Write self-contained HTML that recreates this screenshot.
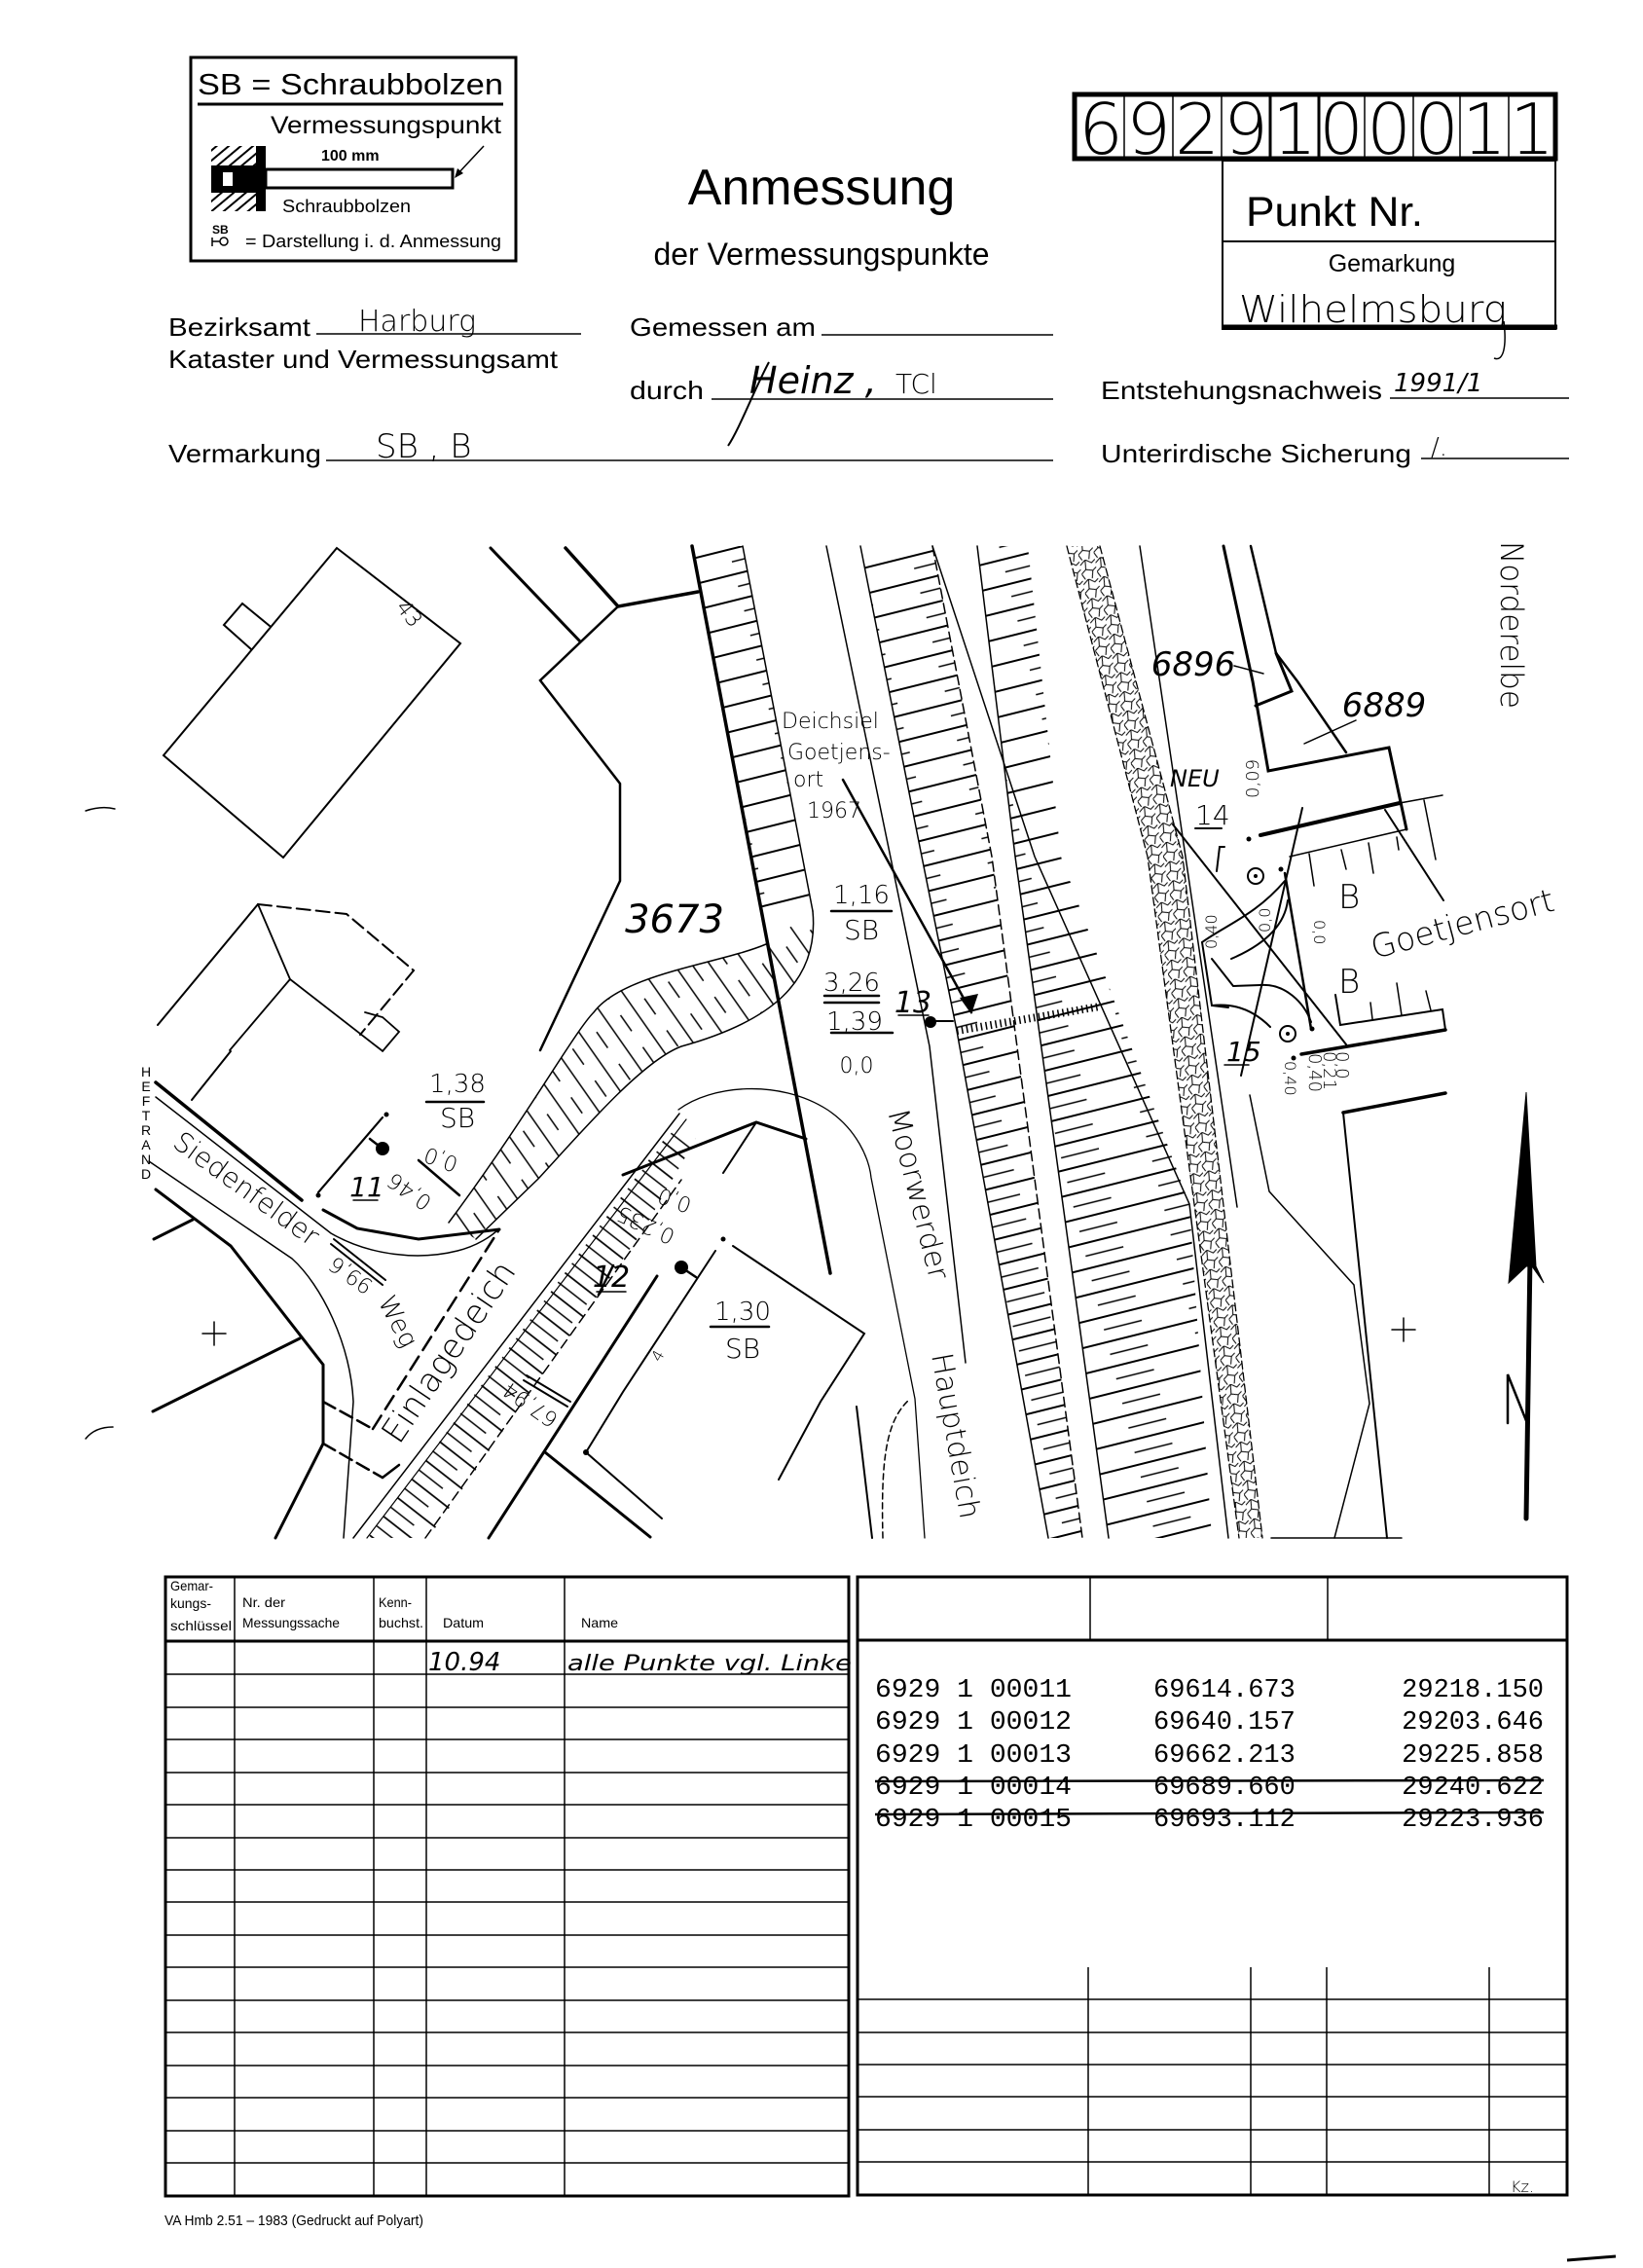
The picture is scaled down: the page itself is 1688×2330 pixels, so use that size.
<!DOCTYPE html>
<html><head><meta charset="utf-8"><style>
html,body{margin:0;padding:0;background:#fff}
svg{display:block}
.p{font-family:"Liberation Sans",sans-serif}
.n{font-family:"Liberation Sans",sans-serif}
.h{font-family:"DejaVu Sans","Liberation Sans",sans-serif}
.m{font-family:"Liberation Mono",monospace}
</style></head><body>
<svg width="1688" height="2330" viewBox="0 0 1688 2330" xmlns="http://www.w3.org/2000/svg">
<defs>
<pattern id="tk" width="90" height="26" patternUnits="userSpaceOnUse" patternTransform="rotate(-14)">
<line x1="0" y1="1" x2="90" y2="1" stroke="#000" stroke-width="2"/>
<line x1="50" y1="14" x2="90" y2="14" stroke="#000" stroke-width="1.6"/>
</pattern>
<pattern id="tk2" width="90" height="24" patternUnits="userSpaceOnUse" patternTransform="rotate(38)">
<line x1="0" y1="1" x2="90" y2="1" stroke="#000" stroke-width="1.8"/>
<line x1="0" y1="13" x2="40" y2="13" stroke="#000" stroke-width="1.5"/>
</pattern>
<pattern id="tk3" width="40" height="30" patternUnits="userSpaceOnUse" patternTransform="rotate(55)">
<line x1="0" y1="1" x2="40" y2="1" stroke="#000" stroke-width="1.6"/>
<line x1="20" y1="16" x2="40" y2="16" stroke="#000" stroke-width="1.4"/>
</pattern>
<pattern id="cb" width="16" height="20" patternUnits="userSpaceOnUse" patternTransform="rotate(-10)">
<path d="M0,5 L6,0 L12,4 L16,1 M6,0 L5,10 L0,14 M5,10 L12,12 L16,9 M12,12 L10,20 M0,14 L3,20" fill="none" stroke="#000" stroke-width="1"/>
</pattern>
<pattern id="hs" width="8" height="8" patternUnits="userSpaceOnUse" patternTransform="rotate(-40)">
<line x1="0" y1="2" x2="8" y2="2" stroke="#000" stroke-width="2"/>
</pattern>
</defs>

<!-- LEGEND -->
<rect x="196" y="59" width="334" height="209" fill="none" stroke="#000" stroke-width="3"/>
<text x="203" y="97" class="p" font-size="31" textLength="314" lengthAdjust="spacingAndGlyphs">SB = Schraubbolzen</text>
<line x1="203" y1="107" x2="517" y2="107" stroke="#000" stroke-width="3"/>
<text x="278" y="137" class="p" font-size="25" textLength="237" lengthAdjust="spacingAndGlyphs">Vermessungspunkt</text>
<rect x="217" y="150" width="46" height="67" fill="url(#hs)"/>
<rect x="263" y="150" width="10" height="67" fill="#000"/>
<rect x="217" y="170" width="56" height="28" fill="#000"/>
<rect x="229" y="177" width="10" height="14" fill="#fff"/>
<rect x="273" y="174" width="192" height="19" fill="#fff" stroke="#000" stroke-width="3"/>
<text x="330" y="165" class="p" font-size="16" font-weight="bold">100 mm</text>
<line x1="497" y1="150" x2="469" y2="180" stroke="#000" stroke-width="1.5"/>
<path d="M467,183 L470,173 L476,178Z" fill="#000"/>
<text x="290" y="218" class="p" font-size="18" textLength="132" lengthAdjust="spacingAndGlyphs">Schraubbolzen</text>
<text x="218" y="240" class="p" font-size="12" font-weight="bold">SB</text>
<path d="M218,244 V253 M218,248 H226" stroke="#000" stroke-width="1.5"/>
<circle cx="230" cy="248" r="4" fill="none" stroke="#000" stroke-width="1.5"/>
<text x="252" y="254" class="p" font-size="18" textLength="263" lengthAdjust="spacingAndGlyphs">= Darstellung i. d. Anmessung</text>

<!-- TITLE -->
<text x="844" y="210" class="p" font-size="52" text-anchor="middle">Anmessung</text>
<text x="844" y="272" class="p" font-size="32" text-anchor="middle">der Vermessungspunkte</text>

<!-- NUMBER BOX -->
<rect x="1104" y="97" width="494" height="66" fill="none" stroke="#000" stroke-width="5"/>
<g stroke="#000" stroke-width="1.5">
<line x1="1155" y1="97" x2="1155" y2="163"/><line x1="1205" y1="97" x2="1205" y2="163"/>
<line x1="1255" y1="97" x2="1255" y2="163"/><line x1="1305" y1="97" x2="1305" y2="163" stroke-width="3"/>
<line x1="1355" y1="97" x2="1355" y2="163" stroke-width="3"/><line x1="1402" y1="97" x2="1402" y2="163"/>
<line x1="1452" y1="97" x2="1452" y2="163"/><line x1="1500" y1="97" x2="1500" y2="163"/>
<line x1="1550" y1="97" x2="1550" y2="163"/>
</g>
<g class="h" font-size="72" font-weight="200" text-anchor="middle">
<text x="1131" y="158">6</text><text x="1180" y="158">9</text><text x="1230" y="158">2</text><text x="1280" y="158">9</text>
<text x="1330" y="158">1</text><text x="1378" y="158">0</text><text x="1427" y="158">0</text><text x="1476" y="158">0</text>
<text x="1525" y="158">1</text><text x="1574" y="158">1</text>
</g>
<rect x="1256" y="165" width="342" height="173" fill="none" stroke="#000" stroke-width="2"/>
<line x1="1256" y1="336" x2="1600" y2="336" stroke="#000" stroke-width="5"/>
<line x1="1256" y1="248" x2="1598" y2="248" stroke="#000" stroke-width="2"/>
<text x="1280" y="232" class="p" font-size="43" textLength="182" lengthAdjust="spacingAndGlyphs">Punkt Nr.</text>
<text x="1430" y="279" class="p" font-size="25" text-anchor="middle">Gemarkung</text>
<text x="1273" y="331" class="h" font-size="38" font-weight="200" textLength="275" lengthAdjust="spacingAndGlyphs">Wilhelmsburg</text>
<path d="M1545,330 C1548,355 1545,372 1535,368" fill="none" stroke="#000" stroke-width="1.5"/>

<!-- FIELDS -->
<g class="n" font-size="26">
<text x="173" y="345" textLength="146" lengthAdjust="spacingAndGlyphs">Bezirksamt</text>
<text x="173" y="378" textLength="400" lengthAdjust="spacingAndGlyphs">Kataster und Vermessungsamt</text>
<text x="647" y="345" textLength="191" lengthAdjust="spacingAndGlyphs">Gemessen am</text>
<text x="647" y="410" textLength="76" lengthAdjust="spacingAndGlyphs">durch</text>
<text x="173" y="475" textLength="157" lengthAdjust="spacingAndGlyphs">Vermarkung</text>
<text x="1131" y="410" textLength="289" lengthAdjust="spacingAndGlyphs">Entstehungsnachweis</text>
<text x="1131" y="475" textLength="319" lengthAdjust="spacingAndGlyphs">Unterirdische Sicherung</text>
</g>
<g stroke="#000" stroke-width="1.5">
<line x1="325" y1="343" x2="597" y2="343"/><line x1="844" y1="344" x2="1082" y2="344"/>
<line x1="731" y1="410" x2="1082" y2="410"/><line x1="1428" y1="409" x2="1612" y2="409"/>
<line x1="335" y1="473" x2="1082" y2="473"/><line x1="1460" y1="471" x2="1612" y2="471"/>
</g>
<g class="h" font-weight="200">
<text x="368" y="340" font-size="30">Harburg</text>
<text x="386" y="470" font-size="34">SB , B</text>
<text x="770" y="404" font-size="38" font-style="italic">Heinz ,</text>
<text x="920" y="404" font-size="28">TCl</text>
<text x="1432" y="402" font-size="26" font-style="italic">1991/1</text>
<text x="1470" y="468" font-size="26">/.</text>
</g>
<path d="M790,372 C775,400 760,440 748,458" fill="none" stroke="#000" stroke-width="2"/>

<!-- MAP -->
<g fill="none" stroke="#000" stroke-linecap="round">
<polygon points="346,563 473,661 291,881 168,776" stroke-width="2"/>
<polyline points="258,667 230,642 249,620 277,643" stroke-width="2"/>
<polyline points="504,563 596,659" stroke-width="3"/>
<polyline points="581,563 635,623 717,608" stroke-width="3.5"/>
<polyline points="635,623 555,699 637,805 637,905 555,1079" stroke-width="2.5"/>
<polyline points="265,929 356,939 425,997 370,1063" stroke-width="2" stroke-dasharray="14,6"/>
<polyline points="265,929 162,1053" stroke-width="2"/>
<polyline points="265,929 298,1006 392,1079" stroke-width="1.8"/>
<polyline points="298,1006 236,1079" stroke-width="1.8"/>
<polyline points="393,1080 410,1060 393,1045 375,1040" stroke-width="1.8"/>
<polyline points="237,1080 197,1130" stroke-width="2"/>
<polyline points="393,1148 327,1225" stroke-width="2"/>

<polygon points="711,561 763,561 835,936 782,936" fill="url(#tk)" stroke="none"/>
<polyline points="711,561 853,1308" stroke-width="3.5"/>
<polyline points="763,561 835,936" stroke-width="1.5"/>
<path d="M835,936 C842,1010 790,1050 700,1075 C660,1090 600,1160 553,1211 L489,1273 L461,1256 C540,1150 590,1060 610,1040 C640,1000 740,990 787,970 Z" fill="url(#tk3)" stroke="none"/>
<path d="M835,936 C842,1010 790,1050 700,1075 C660,1090 600,1160 553,1211 L489,1273" stroke-width="1.5"/>
<path d="M787,970 C740,990 640,1000 610,1040 C590,1060 540,1150 461,1256" stroke-width="1.5"/>
<polygon points="378,1580 690,1160 715,1170 660,1265 440,1580" fill="url(#tk2)" stroke="none"/>
<polyline points="363,1580 698,1144" stroke-width="1.5"/>
<polyline points="377,1580 705,1150" stroke-width="1.2"/>
<polyline points="437,1580 700,1212" stroke-width="1.5" stroke-dasharray="10,6"/>
<polyline points="502,1580 675,1311" stroke-width="3"/>
<polyline points="160,1112 310,1233" stroke-width="3.5"/>
<path d="M160,1127 L340,1267 C380,1290 430,1295 470,1285 C490,1280 505,1270 512,1263" stroke-width="1.5"/>
<path d="M153,1193 L300,1293 C330,1320 360,1380 363,1440 L353,1580" stroke-width="1.5"/>
<polyline points="160,1222 237,1280 332,1402 332,1483 283,1580" stroke-width="3"/>
<polyline points="158,1273 198,1253" stroke-width="3"/>
<polyline points="157,1450 308,1375" stroke-width="3"/>
<polyline points="332,1440 383,1468" stroke-width="2.5" stroke-dasharray="14,6"/>
<polyline points="332,1483 393,1518" stroke-width="2.5" stroke-dasharray="14,6"/>
<polyline points="383,1468 513,1263" stroke-width="2.5" stroke-dasharray="16,8"/>
<polyline points="393,1518 410,1505" stroke-width="2.5"/>
<polyline points="332,1243 367,1262 430,1273 513,1263" stroke-width="3"/>
<polyline points="340,1278 393,1320" stroke-width="2"/><polyline points="343,1273 396,1315" stroke-width="2"/>
<polyline points="538,1418 583,1445" stroke-width="2"/><polyline points="541,1413 586,1440" stroke-width="2"/>
<polyline points="430,1192 472,1228" stroke-width="2.5"/>
<line x1="327" y1="1225" x2="393" y2="1148" stroke-width="2"/>
<polyline points="640,1207 777,1153 828,1170" stroke-width="3"/>
<polyline points="777,1153 743,1205" stroke-width="2"/>
<path d="M697,1140 C730,1115 800,1108 850,1140 C880,1160 893,1190 895,1210 L940,1437 L950,1580" stroke-width="1.3"/>
<polyline points="753,1280 888,1370 843,1440 800,1520" stroke-width="2"/>
<polyline points="735,1285 640,1430 602,1492 680,1560" stroke-width="2"/>
<polyline points="560,1492 668,1579" stroke-width="3"/>
<polyline points="615,1330 630,1300" stroke-width="2.5"/>
<polyline points="849,561 955,1075 992,1400" stroke-width="1.5"/>
<polyline points="880,1445 896,1580" stroke-width="2"/>
<path d="M907,1580 C905,1500 910,1460 934,1438" stroke-width="1.5" stroke-dasharray="6,4"/>
<polygon points="884,561 958,561 1019,880 1112,1580 1077,1580 983,1059 947,880" fill="url(#tk)" stroke="none"/>
<polyline points="884,561 947,880 983,1059 1077,1580" stroke-width="1.5"/>
<polyline points="958,561 1019,880 1112,1580" stroke-width="1.5" stroke-dasharray="10,5"/>
<polygon points="1004,561 1056,561 1090,880 1222,1237 1245,1580 1139,1580 1043,880" fill="url(#tk)" stroke="none"/>
<polyline points="1004,561 1043,880 1139,1580" stroke-width="1.5"/>
<polyline points="958,561 1063,880 1222,1237 1262,1580" stroke-width="1.5"/>
<polygon points="1096,561 1130,561 1215,880 1297,1580 1273,1580 1179,880" fill="url(#cb)" stroke="none"/>
<polyline points="1096,561 1179,880 1273,1580" stroke-width="1.3" stroke-dasharray="8,4"/>
<polyline points="1130,561 1215,880 1297,1580" stroke-width="1.3" stroke-dasharray="8,4"/>
<polyline points="1171,561 1271,1240" stroke-width="1.5"/>
<line x1="983" y1="1059" x2="1130" y2="1034" stroke-width="8" stroke-dasharray="1.5,3.5" stroke-linecap="butt"/>
<polyline points="1257,561 1287,700 1303,792 1427,768 1445,852" stroke-width="3"/>
<polyline points="1285,561 1311,671 1333,700 1383,773" stroke-width="2.5"/>
<polyline points="1290,725 1327,710 1311,671" stroke-width="3"/>
<polyline points="1295,858 1438,825" stroke-width="4"/>
<polyline points="1438,825 1482,817" stroke-width="1.5"/>
<polyline points="1325,880 1445,852" stroke-width="1.5"/>
<polyline points="1423,832 1483,925" stroke-width="2"/>
<polyline points="1463,822 1475,883" stroke-width="1.5"/>
<line x1="1406" y1="866" x2="1411" y2="897" stroke-width="1.5"/><line x1="1345" y1="877" x2="1350" y2="910" stroke-width="1.5"/>
<line x1="1378" y1="873" x2="1383" y2="893" stroke-width="1.5"/>
<line x1="1435" y1="860" x2="1437" y2="873" stroke-width="1.5"/>
<polyline points="1372,1022 1377,1053 1482,1037 1485,1058" stroke-width="2"/>
<polyline points="1337,1083 1485,1058" stroke-width="3.5"/>
<line x1="1408" y1="1030" x2="1410" y2="1047" stroke-width="1.5"/><line x1="1435" y1="1010" x2="1440" y2="1043" stroke-width="1.5"/><line x1="1465" y1="1018" x2="1470" y2="1038" stroke-width="1.5"/>
<polyline points="1380,1143 1485,1123" stroke-width="3.5"/>
<polyline points="1205,847 1383,1073" stroke-width="2"/>
<polyline points="1338,830 1275,1105" stroke-width="2"/>
<polyline points="1320,897 1347,1057" stroke-width="2.5"/>
<path d="M1235,968 C1260,950 1290,940 1320,905" stroke-width="2"/>
<path d="M1265,985 C1300,970 1320,950 1323,925" stroke-width="2"/>
<polyline points="1235,968 1245,1033 1262,1035" stroke-width="2"/>
<polyline points="1245,985 1267,1013 1295,1012" stroke-width="2"/>
<path d="M1295,1012 C1320,1010 1340,1030 1347,1050" stroke-width="2"/>
<path d="M1245,1033 C1270,1030 1290,1040 1305,1055" stroke-width="2"/>
<polyline points="1250,895 1253,870 1258,870" stroke-width="2"/>
<circle cx="1290" cy="900" r="8" stroke-width="2"/>
<circle cx="1323" cy="1062" r="8" stroke-width="2"/>
<polyline points="1284,1125 1304,1224 1391,1320 1407,1442 1371,1580" stroke-width="1.5"/>
<polyline points="1380,1143 1425,1580" stroke-width="2"/>
<polyline points="1306,1580 1440,1580" stroke-width="1.5"/>
<line x1="866" y1="801" x2="998" y2="1040" stroke-width="2.5"/>
<line x1="1268" y1="684" x2="1298" y2="692" stroke-width="1.5"/>
<line x1="1393" y1="740" x2="1340" y2="764" stroke-width="1.5"/>
<path d="M208,1370 H232 M220,1358 V1382" stroke-width="1.5"/>
<path d="M1430,1366 H1454 M1442,1354 V1378" stroke-width="1.5"/>
<line x1="854" y1="936" x2="916" y2="936" stroke-width="2.5"/>
<line x1="847" y1="1023" x2="903" y2="1023" stroke-width="2.5"/>
<line x1="847" y1="1030" x2="903" y2="1030" stroke-width="2.5"/>
<line x1="854" y1="1061" x2="917" y2="1061" stroke-width="2.5"/>
<line x1="923" y1="1043" x2="954" y2="1043" stroke-width="1.5"/>
<line x1="438" y1="1132" x2="497" y2="1132" stroke-width="2.5"/>
<line x1="363" y1="1233" x2="388" y2="1233" stroke-width="1.5"/>
<line x1="613" y1="1327" x2="643" y2="1327" stroke-width="1.5"/>
<line x1="730" y1="1363" x2="790" y2="1363" stroke-width="2.5"/>
<line x1="1228" y1="851" x2="1255" y2="851" stroke-width="2"/>
<line x1="1258" y1="1094" x2="1283" y2="1094" stroke-width="1.5"/>
<line x1="956" y1="1049" x2="979" y2="1049" stroke-width="2"/>
<line x1="700" y1="1302" x2="715" y2="1312" stroke-width="2.5"/>
<line x1="393" y1="1180" x2="380" y2="1170" stroke-width="2.5"/>
<path d="M1568,1122 L1578,1301 L1586,1318 L1574,1301 L1568,1301 L1550,1318 Z" fill="#000" stroke="#000" stroke-width="1"/>
<line x1="1572" y1="1290" x2="1568" y2="1560" stroke-width="5"/>
<polyline points="1549,1462 1549,1412 1569,1462" stroke-width="2.5"/>
<path d="M88,833 C100,829 110,829 118,831" stroke-width="1.5"/>
<path d="M88,1478 C96,1468 108,1466 116,1466" stroke-width="1.5"/>
</g>
<g fill="#000">
<path d="M998,1042 L986,1025 L1005,1021 Z"/>
<circle cx="956" cy="1050" r="6"/><circle cx="393" cy="1180" r="7"/><circle cx="700" cy="1302" r="7"/>
<circle cx="397" cy="1145" r="2.5"/><circle cx="743" cy="1273" r="2.5"/><circle cx="602" cy="1492" r="3"/>
<circle cx="1290" cy="900" r="2"/><circle cx="1323" cy="1062" r="2"/>
<circle cx="1283" cy="862" r="2.5"/><circle cx="1316" cy="893" r="2.5"/><circle cx="1348" cy="1057" r="2.5"/><circle cx="1329" cy="1087" r="2.5"/>
<circle cx="327" cy="1228" r="2.5"/>
</g>

<g class="h" font-weight="200" fill="#000">
<text x="406" y="624" font-size="22" transform="rotate(52 406 624)">43</text>
<text x="693" y="958" font-size="40" font-style="italic" text-anchor="middle">3673</text>
<text x="803" y="748" font-size="22">Deichsiel</text>
<text x="809" y="780" font-size="22">Goetjens-</text>
<text x="815" y="808" font-size="22">ort</text>
<text x="829" y="840" font-size="22">1967</text>
<text x="885" y="928" font-size="26" text-anchor="middle">1,16</text>
<text x="885" y="965" font-size="28" text-anchor="middle">SB</text>
<text x="875" y="1018" font-size="26" text-anchor="middle">3,26</text>
<text x="878" y="1058" font-size="26" text-anchor="middle">1,39</text>
<text x="880" y="1102" font-size="22" text-anchor="middle">0,0</text>
<text x="938" y="1040" font-size="30" text-anchor="middle" font-style="italic">13</text>
<text x="1226" y="694" font-size="34" text-anchor="middle" font-style="italic">6896</text>
<text x="1422" y="736" font-size="34" text-anchor="middle" font-style="italic">6889</text>
<text x="1542" y="556" font-size="32" transform="rotate(90 1542 556)" textLength="172" lengthAdjust="spacingAndGlyphs">Norderelbe</text>
<text x="1202" y="808" font-size="24" font-style="italic">NEU</text>
<text x="1228" y="847" font-size="28">14</text>
<text x="1293" y="820" font-size="18" transform="rotate(-90 1293 820)">0,09</text>
<text x="1375" y="933" font-size="34">B</text>
<text x="1375" y="1020" font-size="34">B</text>
<text x="1412" y="985" font-size="33" transform="rotate(-15 1412 985)">Goetjensort</text>
<text x="1260" y="1090" font-size="28" font-style="italic">15</text>
<text x="1305" y="958" font-size="16" transform="rotate(-90 1305 958)">0,0</text>
<text x="1250" y="975" font-size="16" transform="rotate(-90 1250 975)">0,40</text>
<text x="1350" y="945" font-size="16" transform="rotate(90 1350 945)">0,0</text>
<text x="1320" y="1090" font-size="16" transform="rotate(90 1320 1090)">0,40</text>
<text x="1373" y="1080" font-size="18" transform="rotate(90 1373 1080)">0,0</text>
<text x="1360" y="1080" font-size="18" transform="rotate(90 1360 1080)">0,21</text>
<text x="1345" y="1082" font-size="18" transform="rotate(90 1345 1082)">0,40</text>
<text x="470" y="1122" font-size="26" text-anchor="middle">1,38</text>
<text x="470" y="1158" font-size="28" text-anchor="middle">SB</text>
<text x="377" y="1229" font-size="28" text-anchor="middle" font-style="italic">11</text>
<text x="472" y="1190" font-size="22" transform="rotate(200 472 1190)">0,0</text>
<text x="445" y="1232" font-size="22" transform="rotate(215 445 1232)">0,46</text>
<text x="176" y="1177" font-size="28" transform="rotate(36 176 1177)">Siedenfelder</text>
<text x="385" y="1318" font-size="22" transform="rotate(215 385 1318)">99,6</text>
<text x="388" y="1337" font-size="26" transform="rotate(62 388 1337)">Weg</text>
<text x="410" y="1485" font-size="34" transform="rotate(-56 410 1485)">Einlagedeich</text>
<text x="575" y="1455" font-size="22" transform="rotate(215 575 1455)">67,94</text>
<text x="712" y="1232" font-size="22" transform="rotate(200 712 1232)">0,0</text>
<text x="695" y="1265" font-size="22" transform="rotate(205 695 1265)">0,235</text>
<text x="628" y="1322" font-size="30" text-anchor="middle" font-style="italic">12</text>
<text x="763" y="1356" font-size="26" text-anchor="middle">1,30</text>
<text x="763" y="1395" font-size="28" text-anchor="middle">SB</text>
<text x="678" y="1400" font-size="16" transform="rotate(-60 678 1400)">4</text>
<text x="912" y="1142" font-size="30" transform="rotate(76 912 1142)">Moorwerder</text>
<text x="957" y="1392" font-size="30" transform="rotate(80 957 1392)">Hauptdeich</text>
</g>
<g class="p" font-size="14" text-anchor="middle" fill="#000">
<text x="150" y="1106">H</text><text x="150" y="1121">E</text><text x="150" y="1136">F</text><text x="150" y="1151">T</text>
<text x="150" y="1166">R</text><text x="150" y="1181">A</text><text x="150" y="1196">N</text><text x="150" y="1211">D</text>
</g>

<!-- LEFT TABLE -->
<rect x="170" y="1620" width="702" height="636" fill="none" stroke="#000" stroke-width="3"/>
<line x1="170" y1="1686" x2="872" y2="1686" stroke="#000" stroke-width="3"/>
<g stroke="#000" stroke-width="1.5">
<line x1="241" y1="1620" x2="241" y2="2256"/><line x1="384" y1="1620" x2="384" y2="2256"/>
<line x1="438" y1="1620" x2="438" y2="2256"/><line x1="580" y1="1620" x2="580" y2="2256"/>
<line x1="170" y1="1720" x2="872" y2="1720"/><line x1="170" y1="1754" x2="872" y2="1754"/>
<line x1="170" y1="1787" x2="872" y2="1787"/><line x1="170" y1="1821" x2="872" y2="1821"/>
<line x1="170" y1="1854" x2="872" y2="1854"/><line x1="170" y1="1888" x2="872" y2="1888"/>
<line x1="170" y1="1921" x2="872" y2="1921"/><line x1="170" y1="1954" x2="872" y2="1954"/>
<line x1="170" y1="1988" x2="872" y2="1988"/><line x1="170" y1="2021" x2="872" y2="2021"/>
<line x1="170" y1="2055" x2="872" y2="2055"/><line x1="170" y1="2088" x2="872" y2="2088"/>
<line x1="170" y1="2122" x2="872" y2="2122"/><line x1="170" y1="2155" x2="872" y2="2155"/>
<line x1="170" y1="2189" x2="872" y2="2189"/><line x1="170" y1="2222" x2="872" y2="2222"/>
</g>
<g class="n" font-size="14" fill="#000">
<text x="175" y="1634" textLength="44" lengthAdjust="spacingAndGlyphs">Gemar-</text><text x="175" y="1652" textLength="42" lengthAdjust="spacingAndGlyphs">kungs-</text><text x="175" y="1675" textLength="63" lengthAdjust="spacingAndGlyphs">schlüssel</text>
<text x="249" y="1651" textLength="44" lengthAdjust="spacingAndGlyphs">Nr. der</text><text x="249" y="1672" textLength="100" lengthAdjust="spacingAndGlyphs">Messungssache</text>
<text x="389" y="1651" textLength="34" lengthAdjust="spacingAndGlyphs">Kenn-</text><text x="389" y="1672" textLength="46" lengthAdjust="spacingAndGlyphs">buchst.</text>
<text x="455" y="1672" textLength="42" lengthAdjust="spacingAndGlyphs">Datum</text><text x="597" y="1672" textLength="38" lengthAdjust="spacingAndGlyphs">Name</text>
</g>
<g class="h" font-weight="200" fill="#000">
<text x="440" y="1716" font-size="26" font-style="italic">10.94</text>
<text x="583" y="1716" font-size="22" font-style="italic" textLength="292" lengthAdjust="spacingAndGlyphs">alle Punkte vgl. Linke</text>
<text x="1552" y="2252" font-size="16">Kz.</text>
</g>

<!-- RIGHT TABLE -->
<rect x="881" y="1620" width="729" height="635" fill="none" stroke="#000" stroke-width="3"/>
<line x1="881" y1="1685" x2="1610" y2="1685" stroke="#000" stroke-width="3"/>
<g stroke="#000" stroke-width="1.5">
<line x1="1120" y1="1620" x2="1120" y2="1685"/><line x1="1364" y1="1620" x2="1364" y2="1685"/>
<line x1="1118" y1="2021" x2="1118" y2="2255"/><line x1="1285" y1="2021" x2="1285" y2="2255"/>
<line x1="1363" y1="2021" x2="1363" y2="2255"/><line x1="1530" y1="2021" x2="1530" y2="2255"/>
<line x1="881" y1="2054" x2="1610" y2="2054"/><line x1="881" y1="2088" x2="1610" y2="2088"/>
<line x1="881" y1="2121" x2="1610" y2="2121"/><line x1="881" y1="2154" x2="1610" y2="2154"/>
<line x1="881" y1="2188" x2="1610" y2="2188"/><line x1="881" y1="2221" x2="1610" y2="2221"/>
</g>
<g class="m" font-size="27" fill="#000">
<text x="899" y="1743" textLength="202" lengthAdjust="spacingAndGlyphs">6929 1 00011</text><text x="1185" y="1743">69614.673</text><text x="1586" y="1743" text-anchor="end">29218.150</text>
<text x="899" y="1776" textLength="202" lengthAdjust="spacingAndGlyphs">6929 1 00012</text><text x="1185" y="1776">69640.157</text><text x="1586" y="1776" text-anchor="end">29203.646</text>
<text x="899" y="1810" textLength="202" lengthAdjust="spacingAndGlyphs">6929 1 00013</text><text x="1185" y="1810">69662.213</text><text x="1586" y="1810" text-anchor="end">29225.858</text>
<text x="899" y="1843" textLength="202" lengthAdjust="spacingAndGlyphs">6929 1 00014</text><text x="1185" y="1843">69689.660</text><text x="1586" y="1843" text-anchor="end">29240.622</text>
<text x="899" y="1876" textLength="202" lengthAdjust="spacingAndGlyphs">6929 1 00015</text><text x="1185" y="1876">69693.112</text><text x="1586" y="1876" text-anchor="end">29223.936</text>
</g>
<line x1="899" y1="1830" x2="1586" y2="1829" stroke="#000" stroke-width="2.5"/>
<line x1="899" y1="1864" x2="1586" y2="1862" stroke="#000" stroke-width="2.5"/>

<text x="169" y="2286" class="n" font-size="15" textLength="266" lengthAdjust="spacingAndGlyphs">VA Hmb 2.51 – 1983 (Gedruckt auf Polyart)</text>
<line x1="1610" y1="2322" x2="1660" y2="2318" stroke="#000" stroke-width="3"/>
</svg>
</body></html>
